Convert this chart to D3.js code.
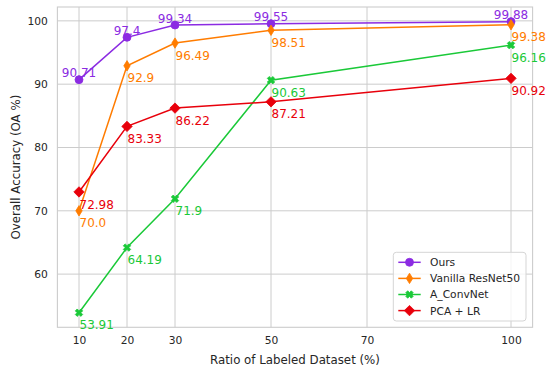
<!DOCTYPE html>
<html><head><meta charset="utf-8">
<script src="https://cdn.jsdelivr.net/npm/d3@7"></script>
<style>body{margin:0;background:#fff}svg{display:block}text{font-family:"DejaVu Sans",sans-serif}</style>
</head><body>
<script>
const ratios = [10, 20, 30, 50, 100];
const xTicks = [10, 20, 30, 50, 70, 100];
const yTicks = [60, 70, 80, 90, 100];
const seriesNames = ["Ours", "Vanilla ResNet50", "A_ConvNet", "PCA + LR"];
const oursVals = [90.71, 97.4, 99.34, 99.55, 99.88];
const vanillaVals = [70.0, 92.9, 96.49, 98.51, 99.38];
const convnetVals = [53.91, 64.19, 71.9, 90.63, 96.16];
const pcaVals = [72.98, 83.33, 86.22, 87.21, 90.92];
const labelTexts = [
  ["90.71", "97.4", "99.34", "99.55", "99.88"],
  ["70.0", "92.9", "96.49", "98.51", "99.38"],
  ["53.91", "64.19", "71.9", "90.63", "96.16"],
  ["72.98", "83.33", "86.22", "87.21", "90.92"]
];
const colors = ["#8b2be2", "#ff7c00", "#1ac938", "#e8000b"];
const markers = ["circle", "thindiamond", "x", "diamond"];
const allVals = [oursVals, vanillaVals, convnetVals, pcaVals];

const W = 546, H = 369;
const L = 57.4, R = 532.6, T = 7, B = 327.3;
const svg = d3.select("body").append("svg").attr("width", W).attr("height", H);

const x = d3.scaleLinear().domain([5.5, 104.5]).range([L, R]);
const y = d3.scaleLinear().domain([51.6015, 102.1885]).range([B, T]);

// grid
const g = svg.append("g");
g.selectAll(".gx").data(xTicks).enter().append("line")
  .attr("x1", d => x(d)).attr("x2", d => x(d)).attr("y1", T).attr("y2", B)
  .attr("stroke", "#cccccc").attr("stroke-width", 1);
g.selectAll(".gy").data(yTicks).enter().append("line")
  .attr("y1", d => y(d)).attr("y2", d => y(d)).attr("x1", L).attr("x2", R)
  .attr("stroke", "#cccccc").attr("stroke-width", 1);
g.append("rect").attr("x", L).attr("y", T).attr("width", R - L).attr("height", B - T)
  .attr("fill", "none").attr("stroke", "#cccccc").attr("stroke-width", 1.1);

// axes (labels only)
const xAxis = d3.axisBottom(x).tickValues(xTicks).tickSize(0).tickPadding(9).tickFormat(d3.format("d"));
const xg = svg.append("g").attr("transform", `translate(0,${B})`).call(xAxis);
xg.select(".domain").remove();
xg.selectAll("text").attr("font-size", 10.7).attr("fill", "#262626").attr("font-family", "DejaVu Sans");
const yAxis = d3.axisLeft(y).tickValues(yTicks).tickSize(0).tickPadding(9.5).tickFormat(d3.format("d"));
const yg = svg.append("g").attr("transform", `translate(${L},0)`).call(yAxis);
yg.select(".domain").remove();
yg.selectAll("text").attr("font-size", 10.7).attr("fill", "#262626").attr("font-family", "DejaVu Sans");

svg.append("text").attr("x", (L + R) / 2).attr("y", 364).attr("text-anchor", "middle")
  .attr("font-size", 11.8).attr("fill", "#262626").text("Ratio of Labeled Dataset (%)");
svg.append("text").attr("transform", `translate(20,${(T + B) / 2}) rotate(-90)`).attr("text-anchor", "middle")
  .attr("font-size", 11.8).attr("fill", "#262626").text("Overall Accuracy (OA %)");

function markerPath(type) {
  if (type === "circle") return d3.symbol(d3.symbolCircle, 50)();
  if (type === "diamond") return "M0,-5.2L5.2,0L0,5.2L-5.2,0Z";
  if (type === "thindiamond") return "M0,-5.2L3.2,0L0,5.2L-3.2,0Z";
  if (type === "x") {
    const a = 3.7, b = 1.9;
    return `M${-a},${-a + b}L${-a + b},${-a}L0,${-b}L${a - b},${-a}L${a},${-a + b}L${b},0L${a},${a - b}L${a - b},${a}L0,${b}L${-a + b},${a}L${-a},${a - b}L${-b},0Z`;
  }
}

const line = d3.line().x(d => x(d[0])).y(d => y(d[1]));
allVals.forEach((vals, i) => {
  const pts = ratios.map((r, j) => [r, vals[j]]);
  const sg = svg.append("g");
  sg.append("path").datum(pts).attr("d", line).attr("fill", "none")
    .attr("stroke", colors[i]).attr("stroke-width", 1.5);
  sg.selectAll("path.m").data(pts).enter().append("path").attr("class", "m")
    .attr("d", markerPath(markers[i]))
    .attr("transform", d => `translate(${x(d[0])},${y(d[1])})`)
    .attr("fill", colors[i]).attr("stroke", colors[i]).attr("stroke-width", 0.8);
});
// data labels
allVals.forEach((vals, i) => {
  svg.append("g").selectAll("text").data(ratios.map((r, j) => [r, vals[j], labelTexts[i][j]])).enter()
    .append("text")
    .attr("x", d => i === 0 ? x(d[0]) : x(d[0]) + 0.5)
    .attr("y", d => i === 0 ? y(d[1]) - 2.5 : y(d[1]) + 16.6)
    .attr("text-anchor", i === 0 ? "middle" : "start")
    .attr("font-size", 12).attr("fill", colors[i]).text(d => d[2]);
});

// legend
const lg = svg.append("g");
lg.append("rect").attr("x", 393.3).attr("y", 252.3).attr("width", 132.7).attr("height", 68.7)
  .attr("rx", 3).attr("fill", "#ffffff").attr("fill-opacity", 0.8).attr("stroke", "#d5d5d5").attr("stroke-width", 1);
seriesNames.forEach((name, i) => {
  const yy = 262.3 + i * 16.1;
  lg.append("line").attr("x1", 398.3).attr("x2", 420.7).attr("y1", yy).attr("y2", yy)
    .attr("stroke", colors[i]).attr("stroke-width", 1.5);
  lg.append("path").attr("d", markerPath(markers[i])).attr("transform", `translate(409.5,${yy})`)
    .attr("fill", colors[i]).attr("stroke", colors[i]).attr("stroke-width", 0.8);
  lg.append("text").attr("x", 430).attr("y", yy + 3.9).attr("font-size", 10.7).attr("fill", "#262626").text(name);
});
</script>
</body></html>
